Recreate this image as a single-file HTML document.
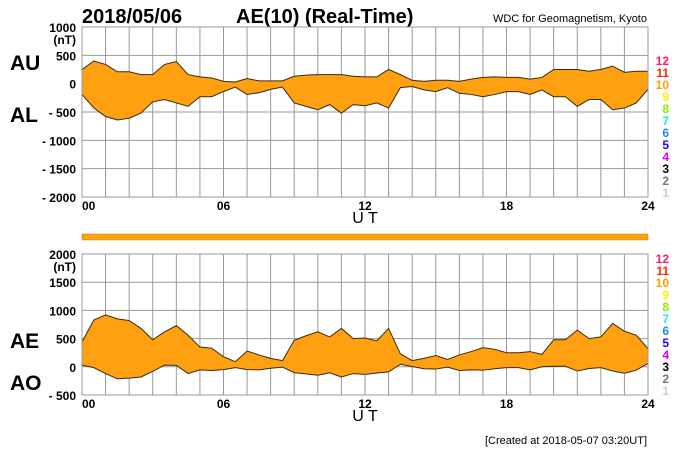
<!DOCTYPE html>
<html><head><meta charset="utf-8"><style>
body{margin:0;background:#fff;width:700px;height:450px;overflow:hidden}
svg{display:block;font-family:"Liberation Sans",sans-serif}
</style></head><body>
<svg id="c" width="700" height="450">
<text x="82" y="23" font-size="20" font-weight="bold">2018/05/06</text>
<text x="236" y="23" font-size="20" font-weight="bold">AE(10) (Real-Time)</text>
<text x="647" y="22" font-size="11" text-anchor="end">WDC for Geomagnetism, Kyoto</text>
<text x="10" y="70" font-size="21" font-weight="bold">AU</text>
<text x="10" y="122" font-size="21" font-weight="bold">AL</text>
<text x="10" y="348" font-size="21" font-weight="bold">AE</text>
<text x="10" y="390" font-size="21" font-weight="bold">AO</text>
<rect x="82" y="234" width="566" height="6" fill="#ffa010" stroke="#c88000" stroke-width="0.5"/>
<text x="647" y="444" font-size="11" text-anchor="end">[Created at 2018-05-07 03:20UT]</text>
</svg>
<script>
const hours=[0,0.5,1,1.5,2,2.5,3,3.5,4,4.5,5,5.5,6,6.5,7,7.5,8,8.5,9,9.5,10,10.5,11,11.5,12,12.5,13,13.5,14,14.5,15,15.5,16,16.5,17,17.5,18,18.5,19,19.5,20,20.5,21,21.5,22,22.5,23,23.5,24];
const auValues=[250,400,340,210,210,160,160,340,390,160,120,100,40,30,90,50,50,50,130,150,160,160,160,130,120,120,250,160,60,40,60,60,40,80,110,120,110,110,80,110,250,250,250,220,250,310,200,220,220];
const alValues=[-190,-430,-580,-640,-610,-520,-320,-280,-340,-400,-230,-230,-140,-60,-190,-160,-100,-60,-340,-400,-460,-370,-520,-370,-390,-340,-430,-70,-50,-110,-140,-70,-170,-190,-230,-190,-140,-140,-190,-110,-230,-230,-400,-280,-280,-460,-430,-340,-100];
const topTicks=[1000,500,0,-500,-1000,-1500,-2000];
const botTicks=[2000,1500,1000,500,0,-500];
const xTickLabels=["00","06","12","18","24"];
const legendLabels=["12","11","10","9","8","7","6","5","4","3","2","1"];
const legendColors=["#ff1a75","#ff2a00","#ffa000","#ffee00","#88ee00","#22eecc","#1a8cff","#2a00ff","#dd00ff","#000000","#777777","#cccccc"];
const aeValues=auValues.map((u,i)=>u-alValues[i]);
const aoValues=auValues.map((u,i)=>(u+alValues[i])/2);

const svg=document.getElementById('c');const NS='http://www.w3.org/2000/svg';
const X0=82,X1=648;
const xs=h=>X0+(X1-X0)*h/24;
function mk(t,a,p){const e=document.createElementNS(NS,t);for(const k in a)e.setAttribute(k,a[k]);(p||svg).appendChild(e);return e;}
function panel(name,top,bottom,vmax,vmin,ticks,upper,lower,upLab,loLab,legTop){
  const ys=v=>top+(bottom-top)*(vmax-v)/(vmax-vmin);
  const g=mk('g',{});
  
  
  for(let i=0;i<=24;i++){const l=mk('line',{x1:xs(i),x2:xs(i),y1:top,y2:bottom,stroke:'#999','stroke-width':1},g);
    }
  ticks.forEach(t=>{const l=mk('line',{x1:X0,x2:X1,y1:ys(t),y2:ys(t),stroke:'#999','stroke-width':1},g);
    
    const tx=mk('text',{x:76,y:ys(t)+5,'font-size':12,'font-weight':'bold','text-anchor':'end'},g);
    tx.textContent=(t<0?'- '+(-t):String(t));
    });
  const u=mk('text',{x:76,y:ys(ticks[0])+17,'font-size':12,'font-weight':'bold','text-anchor':'end'},g);u.textContent='(nT)';
  
  let d='M'+hours.map((h,i)=>xs(h)+','+ys(upper[i])).join('L');
  for(let i=hours.length-1;i>=0;i--)d+='L'+xs(hours[i])+','+ys(lower[i]);
  const a=mk('path',{d:d+'Z',fill:'#ffa010',stroke:'none'},g);
  
  const l1=mk('path',{d:'M'+hours.map((h,i)=>xs(h)+','+ys(upper[i])).join('L'),fill:'none',stroke:'#3a2a10','stroke-width':1},g);
  
  const l2=mk('path',{d:'M'+hours.map((h,i)=>xs(h)+','+ys(lower[i])).join('L'),fill:'none',stroke:'#3a2a10','stroke-width':1},g);
  
  mk('rect',{x:X0,y:top,width:X1-X0,height:bottom-top,fill:'none',stroke:'#999'},g);
  xTickLabels.forEach((s,i)=>{const t=mk('text',{x:xs(i*6),y:bottom+13,'font-size':12,'font-weight':'bold','text-anchor':i==0?'start':'middle'},g);
    t.textContent=s;});
  const ut=mk('text',{x:365,y:bottom+26,'font-size':16,'text-anchor':'middle'},g);ut.textContent='U T';
  
  legendLabels.forEach((s,i)=>{const t=mk('text',{x:669,y:legTop+i*12,'font-size':12,'font-weight':'bold','text-anchor':'end',fill:legendColors[i]},g);
    t.textContent=s;});
}
panel('au-al',27,197,1000,-2000,topTicks,auValues,alValues,'au','al',65);
panel('ae-ao',254,395,2000,-500,botTicks,aeValues,aoValues,'ae','ao',263);
</script>
</body></html>
